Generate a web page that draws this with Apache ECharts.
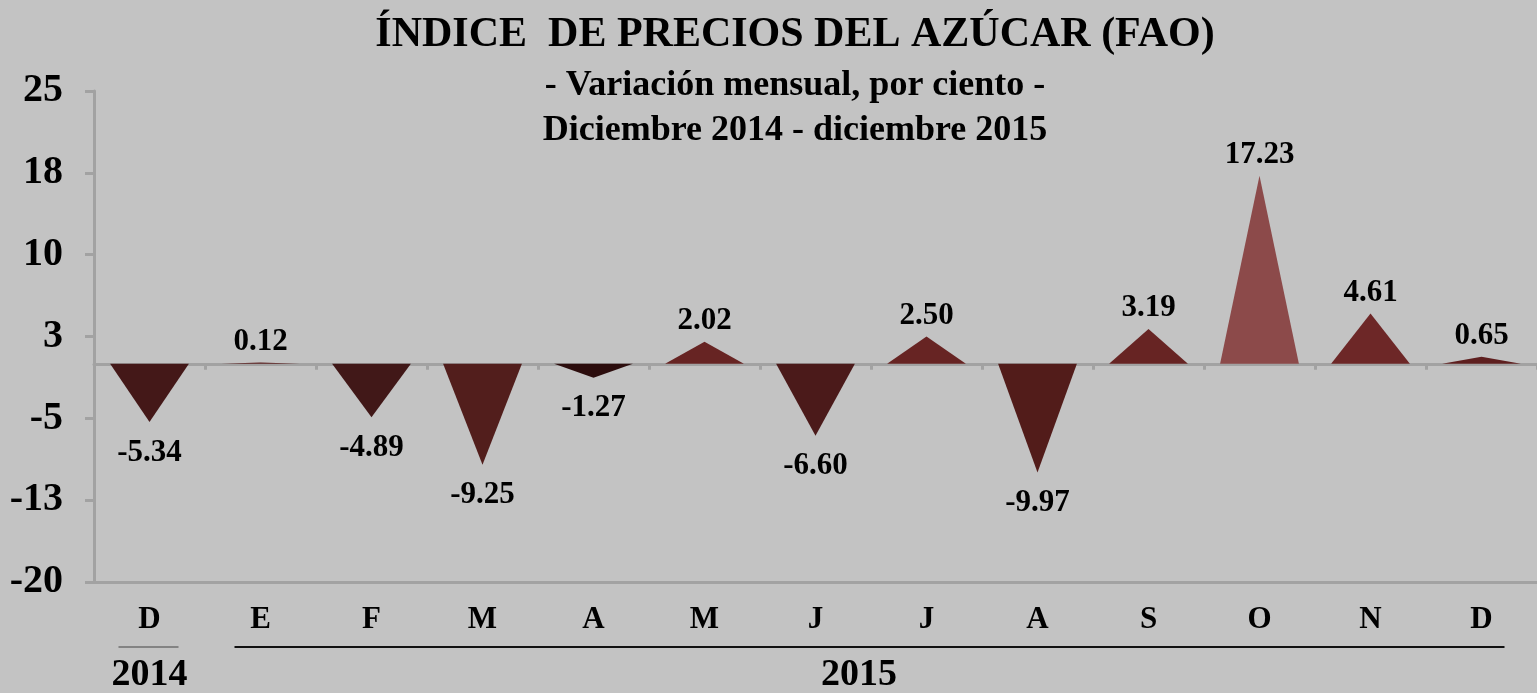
<!DOCTYPE html>
<html>
<head>
<meta charset="utf-8">
<title>Índice de precios del azúcar (FAO)</title>
<script src="https://cdn.jsdelivr.net/npm/echarts@6/dist/echarts.min.js"></script>
<style>
  html, body { margin: 0; padding: 0; background: #c3c3c3; }
  #chart { width: 1537px; height: 693px; }
</style>
</head>
<body>
<div id="chart"></div>
<script>
// months Dec 2014 .. Dec 2015
const months = ['D', 'E', 'F', 'M', 'A', 'M', 'J', 'J', 'A', 'S', 'O', 'N', 'D'];
const variation = [-5.34, 0.12, -4.89, -9.25, -1.27, 2.02, -6.60, 2.50, -9.97, 3.19, 17.23, 4.61, 0.65];
const yearLabels = ['2014', '2015'];
const barColors = ['#441818', '#5a1e1e', '#411818', '#521e1c', '#2c0d0d', '#672423', '#4b1a1a',
                   '#672423', '#521c1a', '#672423', '#8c4a4a', '#6d2727', '#5e1f1f'];

const serif = '"Liberation Serif", "Times New Roman", serif';
const axisGray = '#a2a2a2';

const chart = echarts.init(document.getElementById('chart'));

const option = {
    backgroundColor: '#c3c3c3',
    title: [
        {
            text: 'ÍNDICE  DE PRECIOS DEL AZÚCAR (FAO)',
            left: 790,
            top: 9,
            textAlign: 'center',
            textStyle: { fontFamily: serif, fontWeight: 'bold', fontSize: 42, color: '#000' }
        },
        {
            text: '- Variación mensual, por ciento -\nDiciembre 2014 - diciembre 2015',
            left: 790,
            top: 58,
            textAlign: 'center',
            textStyle: { fontFamily: serif, fontWeight: 'bold', fontSize: 36, lineHeight: 45, color: '#000' }
        }
    ],
    grid: { left: 94, right: 0, top: 91, bottom: 111 },
    xAxis: [
        {
            type: 'category',
            data: months,
            position: 'bottom',
            axisLine: { onZero: false, lineStyle: { color: axisGray, width: 3 } },
            axisTick: { show: false },
            axisLabel: {
                margin: 22,
                interval: 0,
                fontFamily: serif, fontWeight: 'bold', fontSize: 31, color: '#000'
            }
        },
        {
            type: 'category',
            data: months,
            position: 'bottom',
            axisLine: { onZero: true, lineStyle: { color: axisGray, width: 3 } },
            axisTick: { show: true, interval: 0, length: 6, lineStyle: { color: axisGray, width: 3 } },
            axisLabel: { show: false }
        }
    ],
    yAxis: {
        type: 'value',
        min: -20,
        max: 25,
        interval: 7.5,
        axisLine: { show: true, lineStyle: { color: axisGray, width: 3 } },
        axisTick: { show: true, length: 9, lineStyle: { color: axisGray, width: 3 } },
        splitLine: { show: false },
        axisLabel: {
            margin: 31,
            fontFamily: serif, fontWeight: 'bold', fontSize: 40, color: '#000',
            formatter: v => String(v < 0 ? -Math.round(-v) : Math.round(v))
        }
    },
    series: [
        {
            type: 'pictorialBar',
            xAxisIndex: 0,
            symbol: 'triangle',
            barCategoryGap: '29%',
            label: {
                show: true,
                fontFamily: serif, fontWeight: 'bold', fontSize: 31, color: '#000',
                formatter: p => p.value.toFixed(2)
            },
            data: variation.map((v, i) => ({
                value: v,
                itemStyle: { color: barColors[i] },
                label: v < 0 ? { position: 'bottom', distance: 15 } : { position: 'top', distance: 5 }
            }))
        }
    ]
};

chart.setOption(option);

// year brackets under the month labels
const x0 = chart.convertToPixel({ xAxisIndex: 0 }, 0);
const x1 = chart.convertToPixel({ xAxisIndex: 0 }, 1);
const x12 = chart.convertToPixel({ xAxisIndex: 0 }, months.length - 1);
const yBase = chart.convertToPixel({ yAxisIndex: 0 }, -20);
const yLine = yBase + 65;
const yText = yBase + 93;
const yearFont = { fontFamily: serif, fontWeight: 'bold', fontSize: 38, fill: '#000', align: 'center', verticalAlign: 'middle' };

chart.setOption({
    graphic: [
        { type: 'line', shape: { x1: x0 - 31, y1: yLine, x2: x0 + 29, y2: yLine }, style: { stroke: '#6e6e6e', lineWidth: 1.5 } },
        { type: 'line', shape: { x1: x1 - 26, y1: yLine, x2: x12 + 23, y2: yLine }, style: { stroke: '#111', lineWidth: 2 } },
        { type: 'text', x: x0, y: yText, style: Object.assign({ text: yearLabels[0] }, yearFont) },
        { type: 'text', x: (x1 + x12) / 2 - 12, y: yText, style: Object.assign({ text: yearLabels[1] }, yearFont) }
    ]
});
</script>
</body>
</html>
